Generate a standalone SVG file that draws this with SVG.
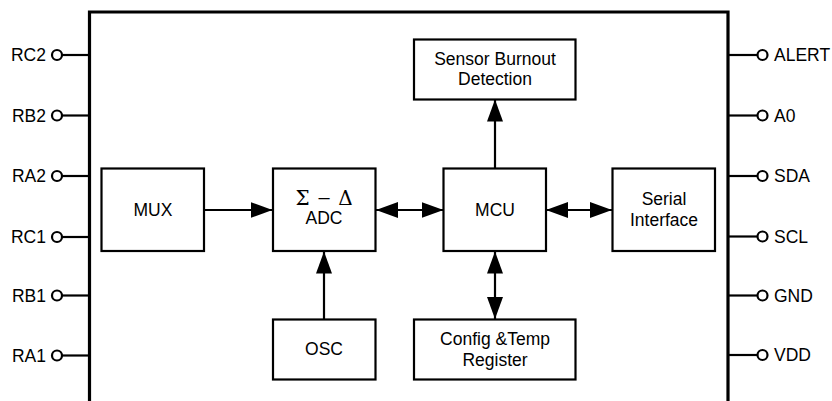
<svg xmlns="http://www.w3.org/2000/svg" width="832" height="401" viewBox="0 0 832 401">
  <style>
    text { font-family: "Liberation Sans", Arial, sans-serif; font-size: 17.5px; fill: #000; }
    .c { text-anchor: middle; }
    .r { text-anchor: end; }
    .box { fill: #fff; stroke: #000; stroke-width: 2.2; }
    .wire { fill: none; stroke: #000; stroke-width: 2.2; }
    .pin { fill: #fff; stroke: #000; stroke-width: 2.2; }
    .sym { font-family: "DejaVu Serif", "Liberation Serif", serif; font-size: 20px; }
    .dash { font-size: 20px; }
  </style>
  <defs>
    <marker id="ah" markerUnits="userSpaceOnUse" markerWidth="22" markerHeight="16" viewBox="0 0 22 16" refX="22" refY="8" orient="auto-start-reverse">
      <path d="M0,0 L22,8 L0,16 Z" fill="#000"/>
    </marker>
  </defs>

  <!-- package outline, open at the bottom -->
  <path id="package" d="M89.5,401 V12 H728 V401" fill="none" stroke="#000" stroke-width="3.2"/>

  <!-- pins -->
  <g id="pins-left">
    <g id="pin-RC2"><line class="wire" x1="62" y1="55" x2="89" y2="55"/><circle class="pin" cx="57" cy="55" r="5"/><text class="r" x="46" y="61">RC2</text></g>
    <g id="pin-RB2"><line class="wire" x1="62" y1="115.5" x2="89" y2="115.5"/><circle class="pin" cx="57" cy="115.5" r="5"/><text class="r" x="46" y="121.5">RB2</text></g>
    <g id="pin-RA2"><line class="wire" x1="62" y1="176" x2="89" y2="176"/><circle class="pin" cx="57" cy="176" r="5"/><text class="r" x="46" y="182">RA2</text></g>
    <g id="pin-RC1"><line class="wire" x1="62" y1="237" x2="89" y2="237"/><circle class="pin" cx="57" cy="237" r="5"/><text class="r" x="46" y="243">RC1</text></g>
    <g id="pin-RB1"><line class="wire" x1="62" y1="295.5" x2="89" y2="295.5"/><circle class="pin" cx="57" cy="295.5" r="5"/><text class="r" x="46" y="301.5">RB1</text></g>
    <g id="pin-RA1"><line class="wire" x1="62" y1="355.5" x2="89" y2="355.5"/><circle class="pin" cx="57" cy="355.5" r="5"/><text class="r" x="46" y="361.5">RA1</text></g>
  </g>
  <g id="pins-right">
    <g id="pin-ALERT"><line class="wire" x1="729" y1="55" x2="757" y2="55"/><circle class="pin" cx="762.5" cy="55" r="5"/><text x="774" y="61">ALERT</text></g>
    <g id="pin-A0"><line class="wire" x1="729" y1="115.5" x2="757" y2="115.5"/><circle class="pin" cx="762.5" cy="115.5" r="5"/><text x="774" y="121.5">A0</text></g>
    <g id="pin-SDA"><line class="wire" x1="729" y1="176" x2="757" y2="176"/><circle class="pin" cx="762.5" cy="176" r="5"/><text x="774" y="182">SDA</text></g>
    <g id="pin-SCL"><line class="wire" x1="729" y1="236.5" x2="757" y2="236.5"/><circle class="pin" cx="762.5" cy="236.5" r="5"/><text x="774" y="242.5">SCL</text></g>
    <g id="pin-GND"><line class="wire" x1="729" y1="295.5" x2="757" y2="295.5"/><circle class="pin" cx="762.5" cy="295.5" r="5"/><text x="774" y="301.5">GND</text></g>
    <g id="pin-VDD"><line class="wire" x1="729" y1="355" x2="757" y2="355"/><circle class="pin" cx="762.5" cy="355" r="5"/><text x="774" y="361">VDD</text></g>
  </g>

  <!-- connectors -->
  <g id="connectors">
    <line class="wire" x1="204" y1="210" x2="272.5" y2="210" marker-end="url(#ah)"/>
    <line class="wire" x1="376" y1="210" x2="443.5" y2="210" marker-start="url(#ah)" marker-end="url(#ah)"/>
    <line class="wire" x1="546" y1="210" x2="612" y2="210" marker-start="url(#ah)" marker-end="url(#ah)"/>
    <line class="wire" x1="495" y1="169" x2="495" y2="99.5" marker-end="url(#ah)"/>
    <line class="wire" x1="495" y1="251.5" x2="495" y2="319" marker-start="url(#ah)" marker-end="url(#ah)"/>
    <line class="wire" x1="324" y1="319" x2="324" y2="251.5" marker-end="url(#ah)"/>
  </g>

  <!-- blocks -->
  <g id="mux">
    <rect class="box" x="101.5" y="168.5" width="102.5" height="82.5"/>
    <text class="c" x="153" y="216">MUX</text>
  </g>
  <g id="adc">
    <rect class="box" x="273" y="168.5" width="102.5" height="82.5"/>
    <text class="c sym" x="302.5" y="205">Σ</text>
    <text class="c dash" x="324" y="204">–</text>
    <text class="c sym" x="345.5" y="205">Δ</text>
    <text class="c" x="324" y="223.5">ADC</text>
  </g>
  <g id="mcu">
    <rect class="box" x="443.5" y="168.5" width="102.5" height="82.5"/>
    <text class="c" x="495" y="216">MCU</text>
  </g>
  <g id="serial-interface">
    <rect class="box" x="612.5" y="168.5" width="102.5" height="82.5"/>
    <text class="c" x="664" y="205">Serial</text>
    <text class="c" x="664" y="225.5">Interface</text>
  </g>
  <g id="sensor-burnout">
    <rect class="box" x="414" y="39.5" width="161.5" height="60"/>
    <text class="c" x="495" y="64.5">Sensor Burnout</text>
    <text class="c" x="495" y="85">Detection</text>
  </g>
  <g id="config-register">
    <rect class="box" x="414" y="319.5" width="161.5" height="60"/>
    <text class="c" x="495" y="345">Config &amp;Temp</text>
    <text class="c" x="495" y="365.5">Register</text>
  </g>
  <g id="osc">
    <rect class="box" x="273" y="319.5" width="102.5" height="60"/>
    <text class="c" x="324" y="354.5">OSC</text>
  </g>
</svg>
